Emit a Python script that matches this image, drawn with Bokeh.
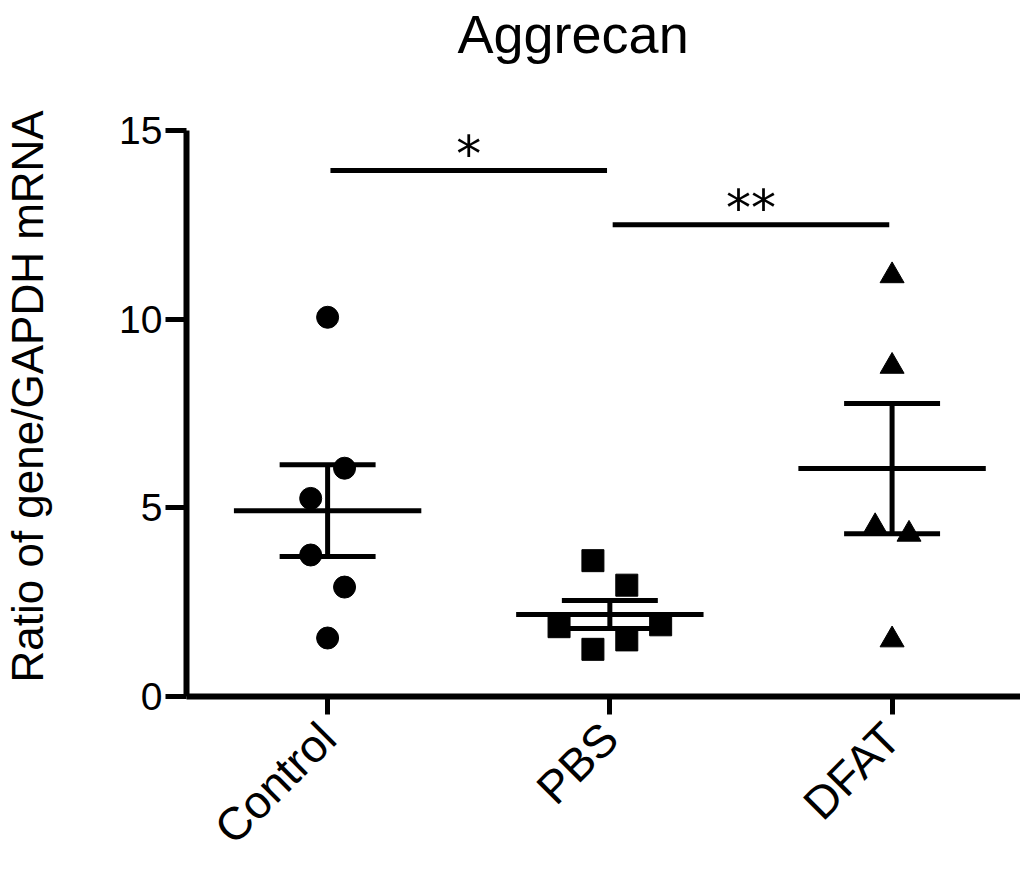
import math
import numpy as np
from bokeh.plotting import figure
from bokeh.models import Range1d, FixedTicker, Label, Title
from bokeh.embed import file_html
from bokeh.resources import INLINE

# ---- data ----
categories = ["Control", "PBS", "DFAT"]
control_values = [10.05, 6.05, 5.25, 3.75, 2.9, 1.55]
pbs_values = [3.6, 2.95, 1.85, 1.9, 1.5, 1.25]
dfat_values = [11.15, 8.75, 4.5, 4.3, 1.5]
y_ticks = [0, 5, 10, 15]
title_text = "Aggrecan"
y_label_text = "Ratio of gene/GAPDH mRNA"
sig_pairs = [("Control", "PBS"), ("PBS", "DFAT")]
sig_marks = ["*", "**"]
sig_levels = [13.94, 12.5]

# ---- layout / style (not data) ----
control_jitter = [0, 0.06, -0.06, -0.06, 0.06, 0]
pbs_jitter = [-0.06, 0.06, -0.18, 0.18, 0.06, -0.06]
dfat_jitter = [0, 0, -0.06, 0.06, 0]
markers = ["circle", "square", "triangle"]
marker_sizes = [22, 22, 24]
FONT = "Liberation Sans"

groups = [control_values, pbs_values, dfat_values]
jitters = [control_jitter, pbs_jitter, dfat_jitter]
xpos = {c: i + 1 for i, c in enumerate(categories)}

p = figure(width=1020, height=875, output_backend="svg", toolbar_location=None,
           x_range=Range1d(0.5, 3.455), y_range=Range1d(0, 15),
           min_border_left=184, min_border_right=0, min_border_top=130,
           min_border_bottom=178)
p.outline_line_color = None
p.xgrid.visible = False
p.ygrid.visible = False
p.background_fill_color = "white"
p.border_fill_color = "white"

# title: a thin spacer next to the frame, then the real title further out
p.add_layout(Title(text=" ", text_font_size="1px", standoff=64), "above")
p.add_layout(Title(text=title_text, text_font=FONT, text_font_size="54px",
                   text_font_style="normal", text_color="black",
                   align="left", offset=271, standoff=0), "above")

for i, (cat, vals, jit) in enumerate(zip(categories, groups, jitters)):
    x0 = xpos[cat]
    xs = [x0 + j for j in jit]
    p.scatter(xs, vals, marker=markers[i], size=marker_sizes[i],
              fill_color="black", line_color="black")
    arr = np.array(vals, dtype=float)
    m = arr.mean()
    sem = arr.std(ddof=1) / math.sqrt(len(arr))
    # mean line
    p.segment(x0=[x0 - 0.332], x1=[x0 + 0.332], y0=[m], y1=[m],
              line_color="black", line_width=5)
    # SEM whisker and caps
    p.segment(x0=[x0, x0 - 0.17, x0 - 0.17], x1=[x0, x0 + 0.17, x0 + 0.17],
              y0=[m - sem, m + sem, m - sem], y1=[m + sem, m + sem, m - sem],
              line_color="black", line_width=5)

for (a, b), mark, lvl in zip(sig_pairs, sig_marks, sig_levels):
    xa, xb = xpos[a] + 0.01, xpos[b] - 0.01
    p.segment(x0=[xa], x1=[xb], y0=[lvl], y1=[lvl], line_color="black", line_width=5)
    p.add_layout(Label(x=(xa + xb) / 2, y=lvl + 0.45, text=mark, text_align="center",
                       text_baseline="alphabetic", text_font="DejaVu Sans",
                       text_font_size="50px", text_color="black"))

# axes
for ax in (p.xaxis[0], p.yaxis[0]):
    ax.axis_line_width = 6
    ax.axis_line_color = "black"
    ax.major_tick_line_width = 5
    ax.major_tick_line_color = "black"
    ax.major_tick_in = 0
    ax.minor_tick_line_color = None
    ax.major_label_text_font = FONT
    ax.major_label_text_color = "black"

p.yaxis.ticker = FixedTicker(ticks=y_ticks)
p.yaxis.major_tick_out = 21
p.yaxis.major_label_text_font_size = "39px"
p.yaxis.major_label_standoff = 3

# y-axis title: spacer beside the axis, then the vertical title further out
p.add_layout(Title(text=" ", text_font_size="1px", standoff=62), "left")
p.add_layout(Title(text=y_label_text, text_font=FONT, text_font_size="44px",
                   text_font_style="normal", text_color="black",
                   align="left", offset=14, standoff=0), "left")

p.xaxis.ticker = FixedTicker(ticks=[xpos[c] for c in categories])
p.xaxis.major_label_overrides = {xpos[c]: c for c in categories}
p.xaxis.major_tick_out = 18
p.xaxis.major_label_text_font_size = "46px"
p.xaxis.major_label_orientation = math.pi / 4
p.xaxis.major_label_standoff = 16

open("out.html", "w").write(file_html(p, INLINE))
